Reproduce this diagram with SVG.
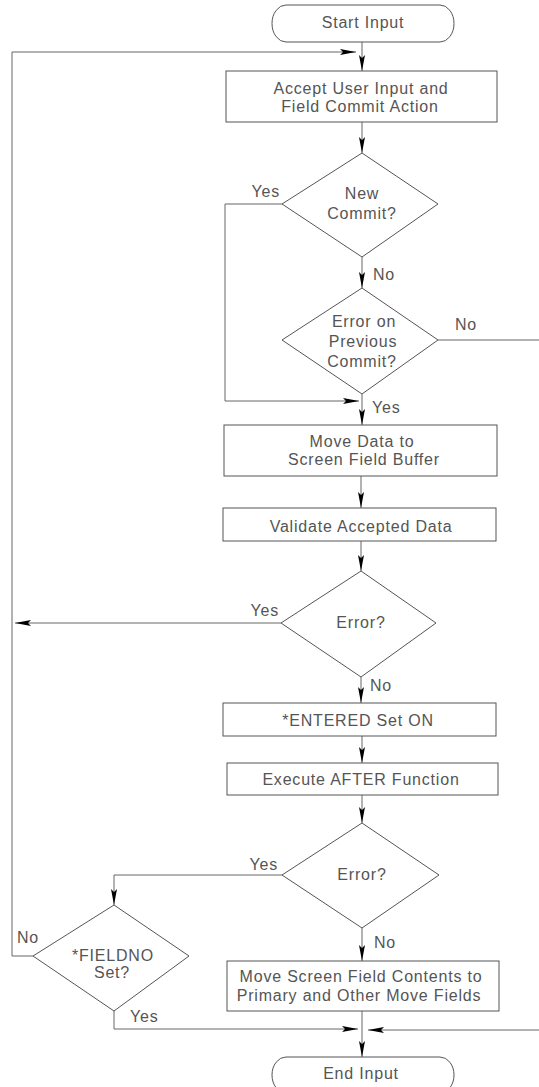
<svg xmlns="http://www.w3.org/2000/svg" width="539" height="1087" viewBox="0 0 539 1087">
<style>
.sh{fill:#fff;stroke:#555;stroke-width:1}
.ln{fill:none;stroke:#666;stroke-width:1}
.ar{marker-end:url(#arr)}
text{font-family:"Liberation Sans",Arial,sans-serif;font-size:16px;fill:#555;letter-spacing:0.8px}
.c{text-anchor:middle}
.e{text-anchor:end}
</style>
<defs>
<marker id="arr" markerWidth="16" markerHeight="6" refX="16" refY="3" orient="auto" markerUnits="userSpaceOnUse">
<path d="M0,0 L16,3 L0,6 L3,3 z" fill="#000"/>
</marker>
</defs>
<rect width="539" height="1087" fill="#fff"/>
<g id="connectors">
<path class="ln ar" d="M362,42 V71"/>
<path class="ln ar" d="M33,956 H12 V52 H356"/>
<path class="ln ar" d="M362,122 V153"/>
<path class="ln ar" d="M282,204 H225 V401 H359"/>
<path class="ln ar" d="M362,257 V288"/>
<path class="ln" d="M438,340 H539"/>
<path class="ln ar" d="M362,394 V425"/>
<path class="ln ar" d="M361,476 V508"/>
<path class="ln ar" d="M361,541 V571"/>
<path class="ln ar" d="M281,623 H15"/>
<path class="ln ar" d="M361,677 V703"/>
<path class="ln ar" d="M362,736 V763"/>
<path class="ln ar" d="M362,795 V823"/>
<path class="ln ar" d="M282,875 H114 V905"/>
<path class="ln ar" d="M362,928 V961"/>
<path class="ln ar" d="M114,1011 V1029 H358"/>
<path class="ln ar" d="M362,1011 V1057"/>
<path class="ln ar" d="M539,1030 H368"/>
<text x="280" y="197" class="e">Yes</text>
<text x="373" y="280">No</text>
<text x="455" y="330">No</text>
<text x="372" y="413">Yes</text>
<text x="279" y="616" class="e">Yes</text>
<text x="370" y="691">No</text>
<text x="278" y="870" class="e">Yes</text>
<text x="374" y="948">No</text>
<text x="17" y="943">No</text>
<text x="130" y="1022">Yes</text>
</g>
<g id="start">
<rect class="sh" x="272" y="5" width="182" height="37" rx="14" ry="18.5"/>
<text x="363" y="28" class="c">Start Input</text>
</g>
<g id="accept">
<rect class="sh" x="226" y="71" width="271" height="51"/>
<text x="361" y="94" class="c">Accept User Input and</text>
<text x="360" y="112" class="c">Field Commit Action</text>
</g>
<g id="newCommit">
<polygon class="sh" points="362,153 438,204 362,257 282,204"/>
<text x="362" y="199" class="c">New</text>
<text x="362" y="219" class="c">Commit?</text>
</g>
<g id="errorPrev">
<polygon class="sh" points="362,288 438,340 362,394 282,340"/>
<text x="364" y="327" class="c">Error on</text>
<text x="363" y="347" class="c">Previous</text>
<text x="362" y="367" class="c">Commit?</text>
</g>
<g id="moveData">
<rect class="sh" x="224" y="425" width="273" height="51"/>
<text x="362" y="447" class="c">Move Data to</text>
<text x="364" y="465" class="c">Screen Field Buffer</text>
</g>
<g id="validate">
<rect class="sh" x="223" y="508" width="273" height="33"/>
<text x="361" y="532" class="c">Validate Accepted Data</text>
</g>
<g id="error1">
<polygon class="sh" points="361,571 436,623 361,677 281,623"/>
<text x="361" y="628" class="c">Error?</text>
</g>
<g id="entered">
<rect class="sh" x="223" y="703" width="273" height="33"/>
<text x="358" y="726" class="c">*ENTERED Set ON</text>
</g>
<g id="after">
<rect class="sh" x="227" y="763" width="271" height="32"/>
<text x="361" y="785" class="c">Execute AFTER Function</text>
</g>
<g id="error2">
<polygon class="sh" points="362,823 439,875 362,928 282,875"/>
<text x="362" y="880" class="c">Error?</text>
</g>
<g id="fieldno">
<polygon class="sh" points="114,905 189,956 114,1011 33,956"/>
<text x="113" y="961" class="c">*FIELDNO</text>
<text x="112" y="978" class="c">Set?</text>
</g>
<g id="moveScreen">
<rect class="sh" x="227" y="961" width="272" height="50"/>
<text x="361" y="982" class="c">Move Screen Field Contents to</text>
<text x="359" y="1001" class="c">Primary and Other Move Fields</text>
</g>
<g id="end">
<rect class="sh" x="272" y="1057" width="182" height="36" rx="14" ry="18"/>
<text x="361" y="1079" class="c">End Input</text>
</g>
</svg>
